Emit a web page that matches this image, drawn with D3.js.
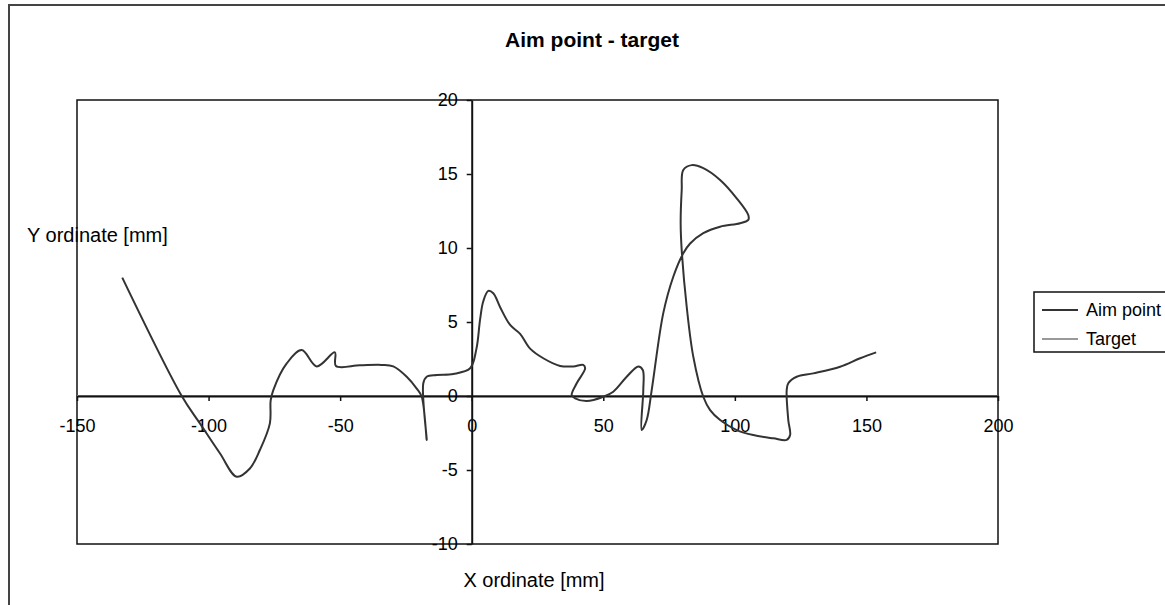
<!DOCTYPE html>
<html>
<head>
<meta charset="utf-8">
<script src="https://cdn.jsdelivr.net/npm/d3@7"></script>
<style>
  body { margin: 0; background: #fff; }
  svg text { font-family: "Liberation Sans", Arial, sans-serif; fill: #000; }
</style>
</head>
<body>
<div id="chart"></div>
<script>
// Aim point track (x, y in mm)
const aimX = [-132.8, -110.2, -103.3, -95.7, -89.3, -84.3, -80.5, -76.7, -76.4, -75.4,
  -70.3, -64.6, -58.9, -52, -51.6, -42.5, -34.2, -29.8, -24.7, -20.9,
  -19, -17.1, -18.4, -17.1, -13.3, -7, -0.6, 1.8, 3.2, 4.4,
  6.3, 8.2, 10.8, 14.6, 18.4, 22.2, 27.2, 33.6, 38.6, 42.4,
  43.1, 39.9, 38, 39.3, 43.7, 50, 53.8, 58.9, 63.3, 65,
  65.2, 64.6, 66.5, 68.4, 72.8, 76.6, 80.4, 83, 88, 94.4,
  102, 105.1, 105.1, 100.7, 94.4, 88, 83.6, 80.4, 79.8, 79.4,
  79.8, 81.7, 84.2, 88, 90.6, 94.4, 100.7, 107, 114.6, 119.7,
  121, 120.3, 119.7, 120.3, 123.5, 129.8, 140, 147.6, 153.7];
const aimY = [8.0, 0, -1.85, -3.87, -5.45, -4.9, -3.65, -1.85, -0.3, 0.4,
  2.2, 3.1, 2.0, 2.95, 2.03, 2.07, 2.1, 2.0, 1.3, 0.5,
  -0.05, -2.97, 0.86, 1.3, 1.42, 1.49, 1.87, 3.2, 5.2, 6.4,
  7.1, 6.94, 6.0, 4.8, 4.2, 3.2, 2.55, 2.03, 2.0, 2.1,
  1.87, 0.86, 0.07, -0.16, -0.34, -0.05, 0.29, 1.3, 2.0, 1.76,
  0.4, -2.3, -1.62, 0.4, 5.6, 8.06, 9.64, 10.3, 11.0, 11.44,
  11.67, 11.9, 12.23, 13.36, 14.6, 15.4, 15.6, 15.27, 13.9, 11.67,
  9.86, 6.03, 2.66, -0.05, -0.95, -1.62, -2.3, -2.64, -2.86, -2.97,
  -2.64, -1.62, 0.4, 0.86, 1.3, 1.53, 1.98, 2.55, 2.95];

// Target series sits on the x axis
const targetX = [-150, 200];
const targetY = [0, 0];

const seriesNames = ['Aim point', 'Target'];
const xTicks = [-150, -100, -50, 0, 50, 100, 150, 200];
const yTicks = [-10, -5, 0, 5, 10, 15, 20];

const W = 1165, H = 605;
const plot = {left: 77, right: 998, top: 100, bottom: 544};

const svg = d3.select('#chart')
  .append('svg')
  .attr('width', W)
  .attr('height', H);

// Outer chart border (right and bottom run off the picture)
svg.append('rect')
  .attr('x', 9).attr('y', 5)
  .attr('width', 1220).attr('height', 700)
  .attr('fill', '#fff')
  .attr('stroke', '#444')
  .attr('stroke-width', 2);

const x = d3.scaleLinear().domain([-150, 200]).range([plot.left, plot.right]);
const y = d3.scaleLinear().domain([-10, 20]).range([plot.bottom, plot.top]);

// plain hyphen for negatives, like the original
const fmt = d => String(d);

// Title
svg.append('text')
  .attr('x', 592).attr('y', 47)
  .attr('text-anchor', 'middle')
  .style('font-size', '21px')
  .style('font-weight', 'bold')
  .text('Aim point - target');

// Y axis title (plot border later crosses it)
svg.append('text')
  .attr('x', 27).attr('y', 242)
  .style('font-size', '20px')
  .text('Y ordinate [mm]');

// X axis title
svg.append('text')
  .attr('x', 534).attr('y', 587)
  .attr('text-anchor', 'middle')
  .style('font-size', '20px')
  .text('X ordinate [mm]');

// Plot area frame
svg.append('rect')
  .attr('x', plot.left).attr('y', plot.top)
  .attr('width', plot.right - plot.left)
  .attr('height', plot.bottom - plot.top)
  .attr('fill', 'none')
  .attr('stroke', '#111')
  .attr('stroke-width', 1.5);

// Target line, under the axis
const line = d3.line()
  .x(d => x(d[0]))
  .y(d => y(d[1]));

svg.append('path')
  .datum(targetX.map((v, i) => [v, targetY[i]]))
  .attr('d', line)
  .attr('fill', 'none')
  .attr('stroke', '#999')
  .attr('stroke-width', 2);

// Axes crossing at zero
const xAxis = svg.append('g')
  .attr('transform', `translate(0,${y(0)})`)
  .call(d3.axisBottom(x).tickValues(xTicks).tickSize(5).tickSizeOuter(0).tickPadding(18).tickFormat(fmt));

const yAxis = svg.append('g')
  .attr('transform', `translate(${x(0)},0)`)
  .call(d3.axisLeft(y).tickValues(yTicks).tickSize(5).tickSizeOuter(0).tickPadding(9).tickFormat(fmt));

[xAxis, yAxis].forEach(g => {
  g.select('.domain').attr('stroke', '#111').attr('stroke-width', 2);
  g.selectAll('.tick line').attr('stroke', '#111').attr('stroke-width', 1.5);
  g.selectAll('.tick text')
    .style('font-family', '"Liberation Sans", Arial, sans-serif')
    .style('font-size', '18px')
    .attr('fill', '#000');
});

// Aim point path
const aimLine = d3.line()
  .x(d => x(d[0]))
  .y(d => y(d[1]))
  .curve(d3.curveCatmullRom.alpha(0.5));

svg.append('path')
  .datum(aimX.map((v, i) => [v, aimY[i]]))
  .attr('d', aimLine)
  .attr('fill', 'none')
  .attr('stroke', '#333')
  .attr('stroke-width', 2)
  .attr('stroke-linejoin', 'round');

// Legend
const legend = svg.append('g').attr('transform', 'translate(1034,292)');
legend.append('rect')
  .attr('width', 200).attr('height', 60)
  .attr('fill', '#fff')
  .attr('stroke', '#111')
  .attr('stroke-width', 1.5);

const legendColors = ['#333', '#999'];
seriesNames.forEach((name, i) => {
  const cy = 18 + i * 29;
  legend.append('line')
    .attr('x1', 8).attr('x2', 44)
    .attr('y1', cy).attr('y2', cy)
    .attr('stroke', legendColors[i])
    .attr('stroke-width', 2);
  legend.append('text')
    .attr('x', 52).attr('y', cy + 6)
    .style('font-size', '18px')
    .text(name);
});
</script>
</body>
</html>
